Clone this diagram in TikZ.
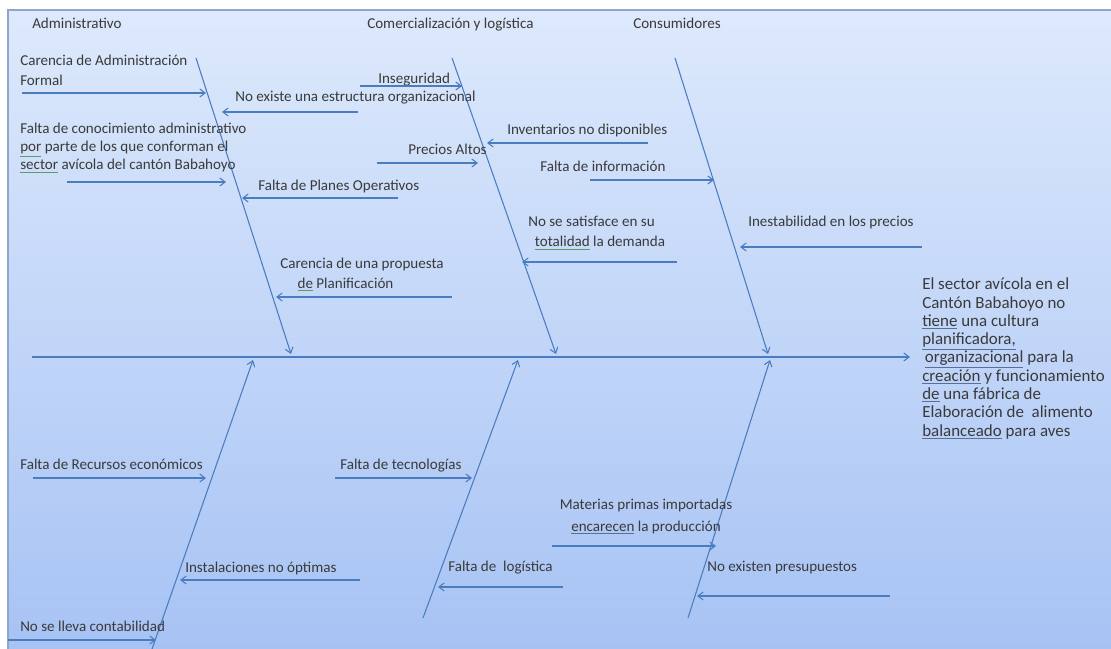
\documentclass[tikz,border=0pt]{standalone}
\usepackage{fontspec}
\setmainfont{Carlito}
\usetikzlibrary{arrows.meta}
\definecolor{bgtop}{HTML}{DDE9FC}
\definecolor{bgbot}{HTML}{A7C3F4}
\definecolor{frame}{HTML}{8FA6C8}
\definecolor{bone}{HTML}{4A7DC0}
\definecolor{txt}{HTML}{3A3A3A}
\definecolor{ulg}{HTML}{5E9A6A}
\definecolor{ulb}{HTML}{5A6E96}
\newcommand\gu[1]{{\color{ulg}\underline{\color{txt}#1}}}
\newcommand\bu[1]{{\color{ulb}\underline{\color{txt}#1}}}
\tikzset{
  lbl/.style={inner sep=0pt, anchor=base west, text=txt, font=\fontsize{11.3}{14.3}\selectfont, align=left},
  bonel/.style={draw=bone, line width=0.8pt, -{Straight Barb[length=4pt,width=6pt]}},
  cause/.style={draw=bone, line width=0.8pt, -{Straight Barb[length=4pt,width=6pt]}},
}
\begin{document}
\begin{tikzpicture}[x=0.75pt,y=-0.75pt]
\useasboundingbox (0,0) rectangle (1111,649);
\fill[white] (0,0) rectangle (1111,649);
\shade[top color=bgtop, bottom color=bgbot] (8,10) rectangle (1111,649);
\draw[frame, line width=0.8pt] (8,649) -- (8,10) -- (1111,10);

% spine and bones
\coordinate (s0) at (32,357);
\coordinate (s1) at (910,357);
\draw[bonel] (s0) -- (s1);
\coordinate (ua0) at (196,58);  \coordinate (ua1) at (291,354);
\coordinate (ub0) at (452,58);  \coordinate (ub1) at (556,354);
\coordinate (uc0) at (675,58);  \coordinate (uc1) at (768,354);
\draw[bonel] (ua0) -- (ua1);
\draw[bonel] (ub0) -- (ub1);
\draw[bonel] (uc0) -- (uc1);
\coordinate (la0) at (151,652); \coordinate (la1) at (253,360);
\coordinate (lb0) at (423,618); \coordinate (lb1) at (518,360);
\coordinate (lc0) at (688,618); \coordinate (lc1) at (770,360);
\draw[bonel] (la0) -- (la1);
\draw[bonel] (lb0) -- (lb1);
\draw[bonel] (lc0) -- (lc1);

% category headings
\node[lbl] (h1) at (32,29) {Administrativo};
\node[lbl] (h2) at (367,29) {Comercialización y logística};
\node[lbl] (h3) at (633,29) {Consumidores};

% Administrativo causes (base anchor = last line baseline)
\node[lbl, font=\fontsize{11.3}{15}\selectfont] (a1) at (20,86) {Carencia de Administración\\Formal};
\coordinate (a1s) at (22,93); \coordinate (a1e) at (206,93);
\draw[cause] (a1s) -- (a1e);
\node[lbl] (a2) at (235,102) {No existe una estructura organizacional};
\coordinate (a2s) at (358,112); \coordinate (a2e) at (222,112);
\draw[cause] (a2s) -- (a2e);
\node[lbl, font=\fontsize{11.3}{13.5}\selectfont] (a3) at (20,170) {Falta de conocimiento administrativo\\\gu{por} parte de los que conforman el\\\gu{sector} avícola del cantón Babahoyo};
\coordinate (a3s) at (67,182); \coordinate (a3e) at (226,182);
\draw[cause] (a3s) -- (a3e);
\node[lbl] (a4) at (258,191) {Falta de Planes Operativos};
\coordinate (a4s) at (398,198); \coordinate (a4e) at (242,198);
\draw[cause] (a4s) -- (a4e);
\node[lbl] (a5) at (280,288) {Carencia de una propuesta\\\hspace*{13pt}\gu{de} Planificación};
\coordinate (a5s) at (452,297); \coordinate (a5e) at (276,297);
\draw[cause] (a5s) -- (a5e);

% Comercializacion causes
\node[lbl] (b1) at (378,84) {Inseguridad};
\coordinate (b1s) at (360,86); \coordinate (b1e) at (462,86);
\draw[cause] (b1s) -- (b1e);
\node[lbl] (b2) at (507,135) {Inventarios no disponibles};
\coordinate (b2s) at (648,143); \coordinate (b2e) at (487,143);
\draw[cause] (b2s) -- (b2e);
\node[lbl] (b3) at (408,155) {Precios Altos};
\coordinate (b3s) at (377,163); \coordinate (b3e) at (478,163);
\draw[cause] (b3s) -- (b3e);
\node[lbl, font=\fontsize{11.3}{15}\selectfont] (b4) at (528,247) {No se satisface en su\\\hspace*{5pt}\gu{totalidad} la demanda};
\coordinate (b4s) at (677,262); \coordinate (b4e) at (522,262);
\draw[cause] (b4s) -- (b4e);

% Consumidores causes
\node[lbl] (c1) at (540,172) {Falta de información};
\coordinate (c1s) at (590,180); \coordinate (c1e) at (714,180);
\draw[cause] (c1s) -- (c1e);
\node[lbl] (c2) at (748,227) {Inestabilidad en los precios};
\coordinate (c2s) at (922,247); \coordinate (c2e) at (740,247);
\draw[cause] (c2s) -- (c2e);

% effect
\node[lbl, font=\fontsize{12.7}{13.7}\selectfont] (eff) at (922,436) {El sector avícola en el\\Cantón Babahoyo no\\\bu{tiene} una cultura\\\bu{planificadora,}\\\hspace*{2pt}\bu{organizacional} para la\\\bu{creación} y funcionamiento\\\bu{de} una fábrica de\\Elaboración de\ \ alimento\\\bu{balanceado} para aves};

% lower causes
\node[lbl] (d1) at (20,469) {Falta de Recursos económicos};
\coordinate (d1s) at (33,478); \coordinate (d1e) at (206,478);
\draw[cause] (d1s) -- (d1e);
\node[lbl] (d2) at (185,572) {Instalaciones no óptimas};
\coordinate (d2s) at (360,580); \coordinate (d2e) at (180,580);
\draw[cause] (d2s) -- (d2e);
\node[lbl] (d3) at (20,631) {No se lleva contabilidad};
\coordinate (d3s) at (8,640); \coordinate (d3e) at (156,640);
\draw[cause] (d3s) -- (d3e);
\node[lbl] (e1) at (340,469) {Falta de tecnologías};
\coordinate (e1s) at (335,478); \coordinate (e1e) at (472,478);
\draw[cause] (e1s) -- (e1e);
\node[lbl] (e2) at (448,571) {Falta de\ \ logística};
\coordinate (e2s) at (563,587); \coordinate (e2e) at (438,587);
\draw[cause] (e2s) -- (e2e);
\node[lbl, anchor=base, align=center, font=\fontsize{11.3}{16.5}\selectfont] (f1) at (646,531) {Materias primas importadas\\\bu{encarecen} la producción};
\coordinate (f1s) at (552,546); \coordinate (f1e) at (716,546);
\draw[cause] (f1s) -- (f1e);
\node[lbl] (f2) at (707,571) {No existen presupuestos};
\coordinate (f2s) at (890,596); \coordinate (f2e) at (697,596);
\draw[cause] (f2s) -- (f2e);
\end{tikzpicture}
\end{document}
